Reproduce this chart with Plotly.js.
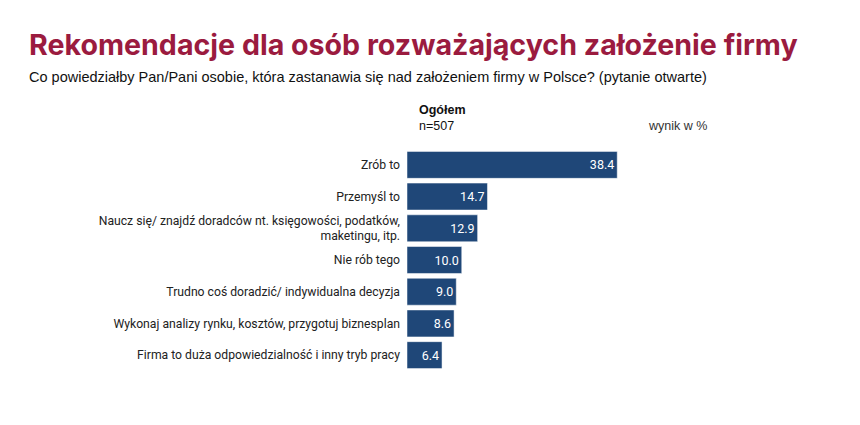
<!DOCTYPE html>
<html>
<head>
<meta charset="utf-8">
<script src="https://cdn.plot.ly/plotly-3.0.1.min.js"></script>
<style>
  html, body { margin: 0; padding: 0; background: #fff; }
  #plot { width: 860px; height: 425px; }
</style>
</head>
<body>
<div id="plot"></div>
<script>
// answers, top to bottom as in the picture
var answers = [
  "Zrób to",
  "Przemyśl to",
  "Naucz się/ znajdź doradców nt. księgowości, podatków,<br>maketingu, itp.",
  "Nie rób tego",
  "Trudno coś doradzić/ indywidualna decyzja",
  "Wykonaj analizy rynku, kosztów, przygotuj biznesplan",
  "Firma to duża odpowiedzialność i inny tryb pracy"
];
var percents = [38.4, 14.7, 12.9, 10.0, 9.0, 8.6, 6.4];

var barColor = "#1f4778";

var trace = {
  type: "bar",
  orientation: "h",
  x: percents,
  y: answers,
  marker: { color: barColor, line: { color: "#ffffff", width: 0.5 } },
  text: percents.map(function (v) { return v.toFixed(1); }),
  textposition: "inside",
  insidetextanchor: "end",
  textfont: { family: "Roboto, sans-serif", size: 12.5, color: "#ffffff" },
  hoverinfo: "none",
  cliponaxis: false
};

var layout = {
  width: 860,
  height: 425,
  margin: { l: 407, r: 234, t: 149, b: 54 },
  paper_bgcolor: "#ffffff",
  plot_bgcolor: "#ffffff",
  showlegend: false,
  bargap: 0.15,
  font: { family: "Roboto, sans-serif", color: "#222222" },
  xaxis: {
    range: [0, 40],
    visible: false,
    fixedrange: true
  },
  yaxis: {
    autorange: "reversed",
    showgrid: false,
    zeroline: false,
    showline: false,
    ticks: "",
    ticklabelstandoff: 6,
    tickfont: { family: "Roboto, sans-serif", size: 12.2, color: "#222222" },
    fixedrange: true
  },
  annotations: [
    {
      text: "<b>Rekomendacje dla osób rozważających założenie firmy</b>",
      xref: "paper", yref: "paper", x: 0, y: 0,
      xanchor: "left", yanchor: "middle", showarrow: false,
      font: { family: "Inter, sans-serif", size: 28.6, color: "#9b1b3f" }
    },
    {
      text: "Co powiedziałby Pan/Pani osobie, która zastanawia się nad założeniem firmy w Polsce? (pytanie otwarte)",
      xref: "paper", yref: "paper", x: 0, y: 0,
      xanchor: "left", yanchor: "middle", showarrow: false,
      font: { family: "Liberation Sans, Arial, sans-serif", size: 14.5, color: "#111111" }
    },
    {
      text: "<b>Ogółem</b>",
      xref: "paper", yref: "paper", x: 0, y: 0,
      xanchor: "left", yanchor: "middle", showarrow: false,
      font: { family: "Liberation Sans, Arial, sans-serif", size: 12.5, color: "#111111" }
    },
    {
      text: "n=507",
      xref: "paper", yref: "paper", x: 0, y: 0,
      xanchor: "left", yanchor: "middle", showarrow: false,
      font: { family: "Liberation Sans, Arial, sans-serif", size: 12.5, color: "#111111" }
    },
    {
      text: "wynik w %",
      xref: "paper", yref: "paper", x: 0, y: 0,
      xanchor: "left", yanchor: "middle", showarrow: false,
      font: { family: "Liberation Sans, Arial, sans-serif", size: 12.5, color: "#333333" }
    }
  ]
};

// place header texts in pixel terms relative to the plot area
var plotW = layout.width - layout.margin.l - layout.margin.r;
var plotH = layout.height - layout.margin.t - layout.margin.b;
function px(x) { return (x - layout.margin.l) / plotW; }
function py(y) { return (layout.height - layout.margin.b - y) / plotH; }
var spots = [[27, 45], [27, 77], [417, 110], [417, 126], [646, 126]];
spots.forEach(function (s, i) {
  layout.annotations[i].x = px(s[0]);
  layout.annotations[i].y = py(s[1]);
});

Plotly.newPlot("plot", [trace], layout, { displayModeBar: false, staticPlot: true });
</script>
</body>
</html>
